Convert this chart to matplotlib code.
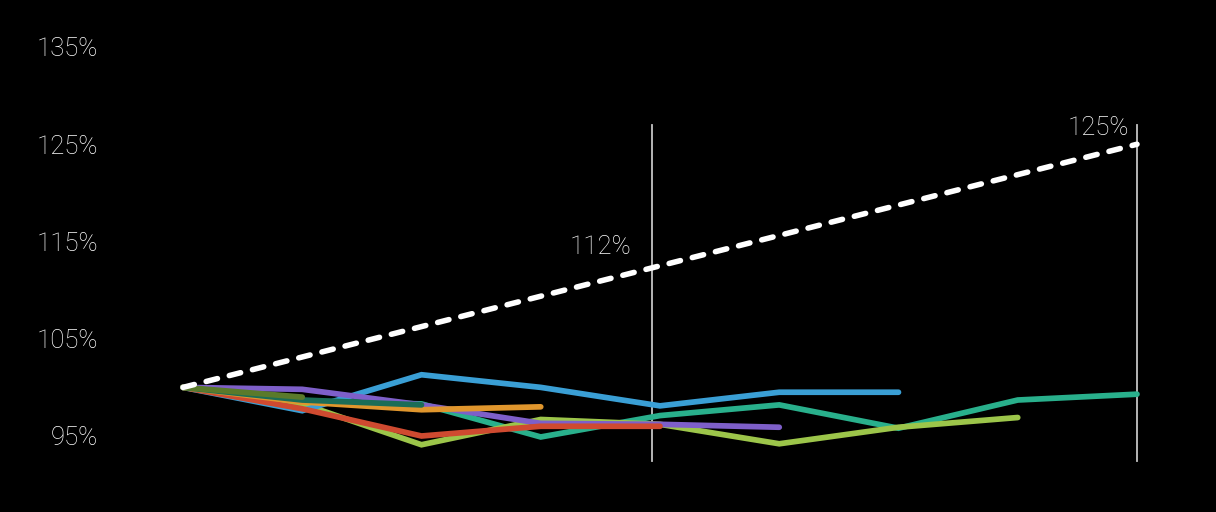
import matplotlib.pyplot as plt

# Periods along the x axis (0 = start, 8 = end of horizon)
periods = list(range(9))

# Target path, in percent of starting value
target = [100, 103.125, 106.25, 109.375, 112.5, 115.625, 118.75, 121.875, 125]

# Actual paths of each cohort, in percent of starting value
olive = [100, 99.0]
dark_green = [100, 98.7, 98.2]
orange = [100, 98.5, 97.7, 98.0]
red = [100, 97.8, 95.0, 96.0, 96.0]
purple = [100, 99.8, 98.2, 96.3, 96.2, 95.9]
blue = [100, 97.6, 101.3, 100.0, 98.1, 99.5, 99.5]
lime = [100, 98.3, 94.1, 96.7, 96.2, 94.2, 95.9, 96.9]
teal = [100, 98.6, 98.3, 94.9, 97.1, 98.2, 95.8, 98.7, 99.3]

yticks = [95, 105, 115, 125, 135]

# Marker positions and their labels
mid_x, mid_label = 3.93, "112%"
end_x, end_label = 8, "125%"

plt.rcParams['font.family'] = ['Roboto', 'DejaVu Sans']
txt = dict(color='white', fontsize=18.5, fontweight='light')

fig = plt.figure(figsize=(12.16, 5.12), dpi=100, facecolor='black')
ax = fig.add_axes([183 / 1216, 76 / 512, 954 / 1216, 389 / 512])
ax.set_facecolor('black')

# vertical reference lines
for xv in (mid_x, end_x):
    ax.plot([xv, xv], [92.4, 127.0], color='#c4c4c4', lw=1.3, clip_on=False, zorder=1)

series = [
    (teal, '#29b08c'),
    (lime, '#9cc54a'),
    (blue, '#3a9fd5'),
    (purple, '#7e5fc9'),
    (red, '#cf4a30'),
    (orange, '#e0962d'),
    (dark_green, '#1b6d57'),
    (olive, '#5a7a2b'),
]
for vals, col in series:
    ax.plot(periods[:len(vals)], vals, color=col, lw=4.1,
            solid_capstyle='round', solid_joinstyle='miter', clip_on=False, zorder=2)

ax.plot(periods, target, color='white', lw=4.0, linestyle=(0, (2.1, 2.2)),
        dash_capstyle='round', clip_on=False, zorder=3)

ax.text(mid_x - 0.17, 114.4, mid_label, ha='right', va='center', **txt)
ax.text(end_x - 0.07, 126.7, end_label, ha='right', va='center', **txt)

ax.set_xlim(0, 8)
ax.set_ylim(95, 135)
ax.set_xticks([])
ax.set_yticks(yticks)
ax.set_yticklabels([f"{t}%" for t in yticks], **txt)
ax.tick_params(axis='y', length=0, pad=61)
for s in ax.spines.values():
    s.set_visible(False)

fig.savefig('out.png', dpi=100, facecolor='black')
